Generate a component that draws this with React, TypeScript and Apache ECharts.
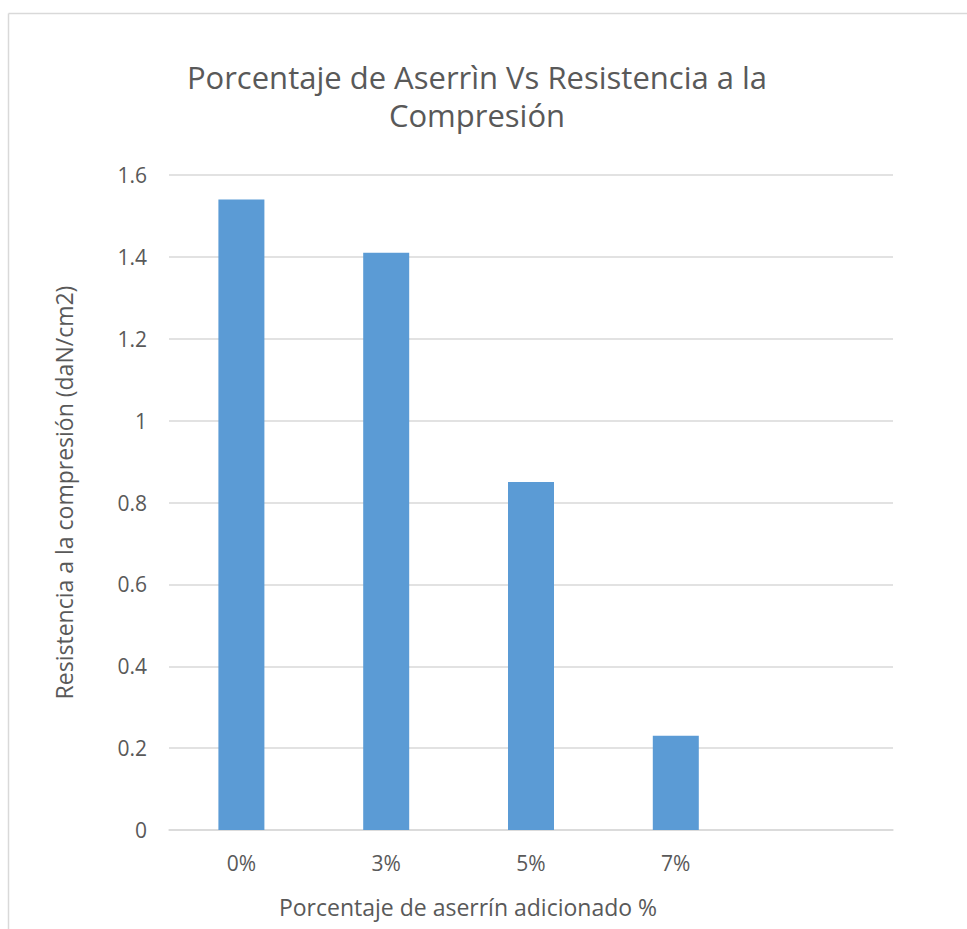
import React, { useEffect, useRef } from "react";
import * as echarts from "echarts";

const categories = ["0%", "3%", "5%", "7%", ""];
const values = [1.54, 1.41, 0.85, 0.23, null];
const titleLines = ["Porcentaje de Aserrìn Vs Resistencia a la", "Compresión"];
const xName = "Porcentaje de aserrín adicionado %";
const yName = "Resistencia a la compresión (daN/cm2)";

const FONT = "'Open Sans', 'Noto Sans', sans-serif";

export default function App() {
  const ref = useRef<HTMLDivElement>(null);
  useEffect(() => {
    document.body.style.margin = "0";
    const chart = echarts.init(ref.current!, null, { renderer: "svg" });
    chart.setOption({
      animation: false,
      backgroundColor: "#ffffff",
      title: {
        text: titleLines.join("\n"),
        left: 472,
        top: 53,
        textAlign: "center",
        textStyle: {
          fontFamily: FONT,
          fontSize: 31,
          fontWeight: "normal",
          color: "#595959",
          lineHeight: 38,
        },
      },
      graphic: [
        { type: "line", shape: { x1: 8.5, y1: 13.5, x2: 967, y2: 13.5 }, style: { stroke: "#d9d9d9", lineWidth: 1.5 } },
        { type: "line", shape: { x1: 8.5, y1: 13.5, x2: 8.5, y2: 929 }, style: { stroke: "#d9d9d9", lineWidth: 1.5 } },
      ],
      grid: { left: 169, right: 74, top: 175, bottom: 99, containLabel: false },
      xAxis: {
        type: "category",
        data: categories,
        name: xName,
        nameLocation: "middle",
        nameGap: 65,
        nameTextStyle: { fontFamily: FONT, fontSize: 23, color: "#595959", padding: [0, 126, 0, 0] },
        axisLine: { lineStyle: { color: "#d9d9d9", width: 1.5 } },
        axisTick: { show: false },
        axisLabel: { fontFamily: FONT, fontSize: 21, color: "#595959", margin: 22 },
      },
      yAxis: {
        type: "value",
        min: 0,
        max: 1.6,
        interval: 0.2,
        name: yName,
        nameLocation: "middle",
        nameGap: 94,
        nameTextStyle: { fontFamily: FONT, fontSize: 23, color: "#595959", padding: [0, 0, 0, 20] },
        axisLine: { show: false },
        axisTick: { show: false },
        axisLabel: {
          fontFamily: FONT,
          fontSize: 21,
          color: "#595959",
          margin: 22,
          formatter: (v: number) => String(Math.round(v * 10) / 10),
        },
        splitLine: { lineStyle: { color: "#d9d9d9", width: 1.5 } },
      },
      series: [
        {
          type: "bar",
          data: values,
          barWidth: 46,
          itemStyle: { color: "#5b9bd5" },
        },
      ],
    });
    return () => chart.dispose();
  }, []);
  return <div ref={ref} style={{ position: "absolute", left: 0, top: 0, width: 967, height: 929 }} />;
}
